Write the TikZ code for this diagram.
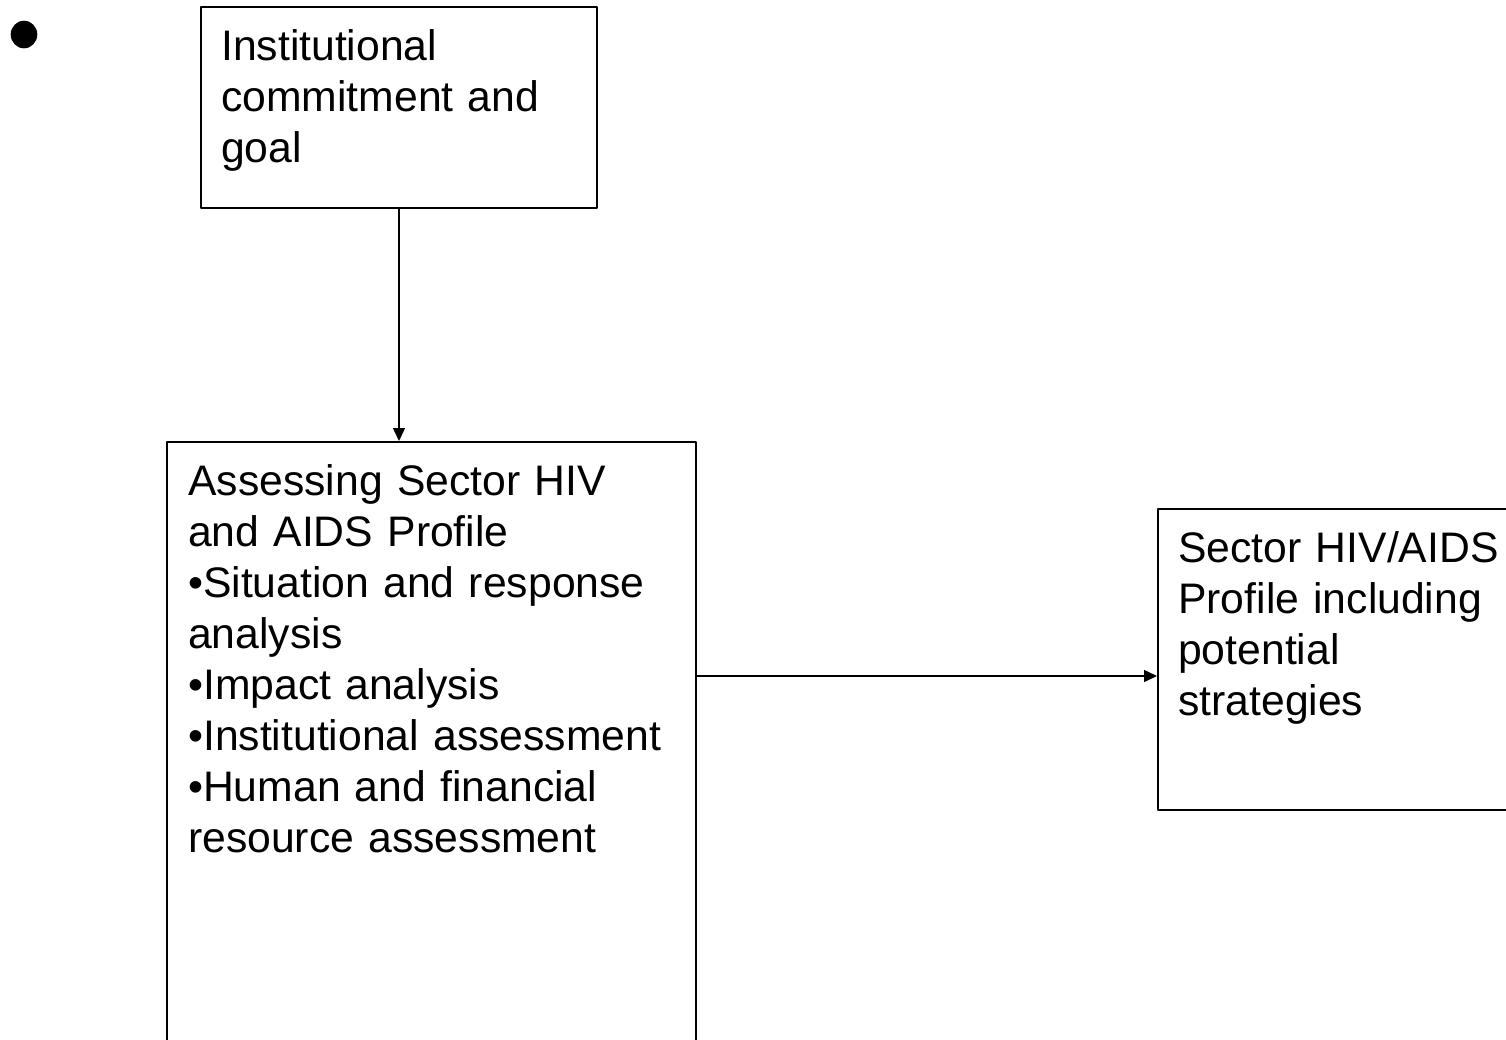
\documentclass[tikz,border=0pt]{standalone}
\usepackage{fontspec}
\setmainfont{Liberation Sans}
\usetikzlibrary{arrows.meta,positioning}
\tikzset{
	box/.style={draw, line width=2pt, anchor=north west, inner sep=0pt},
	txt/.style={anchor=north west, align=left, text width=#1, inner sep=0pt, font=\fontsize{42.7}{51}\selectfont},
	txt/.default=480pt
}
\begin{document}
\begin{tikzpicture}[x=1pt, y=-1pt, >={Triangle[length=13pt,width=12pt]}, line join=round]
		\useasboundingbox (0,0) rectangle (1506,1039);
		\clip (0,0) rectangle (1506,1039);
		\fill (24,34.5) ellipse (13.3 and 13.8); % loose bullet
		% boxes
		\node[box, minimum width=396pt, minimum height=201pt] (goal) at (200,6) {};
		\node[box, minimum width=529pt, minimum height=700pt] (assess) at (166,441) {};
		\node[box, minimum width=420pt, minimum height=301pt] (prof) at (1157,508) {};
		% texts
		\node[txt=370pt] (goaltxt) at ([xshift=21pt,yshift=-19pt]goal.north west)
			{\strut Institutional\\commitment and\\goal};
		\node[txt=500pt] (assesstxt) at ([xshift=22pt,yshift=-19pt]assess.north west)
			{\strut Assessing Sector HIV\\and AIDS Profile\\•Situation and response\\analysis\\•Impact analysis\\•Institutional assessment\\•Human and financial\\resource assessment};
		\node[txt=340pt] (proftxt) at ([xshift=21pt,yshift=-19pt]prof.north west)
			{\strut Sector HIV/AIDS\\Profile including\\potential\\strategies};
		% arrows
		\coordinate (arr) at ([yshift=-16.5pt]prof.west);
		\draw[->, line width=1.5pt] (goal.south) -- (goal.south |- assess.north);
		\draw[->, line width=1.5pt] (assess.east |- arr) -- (arr);
\end{tikzpicture}
\end{document}
